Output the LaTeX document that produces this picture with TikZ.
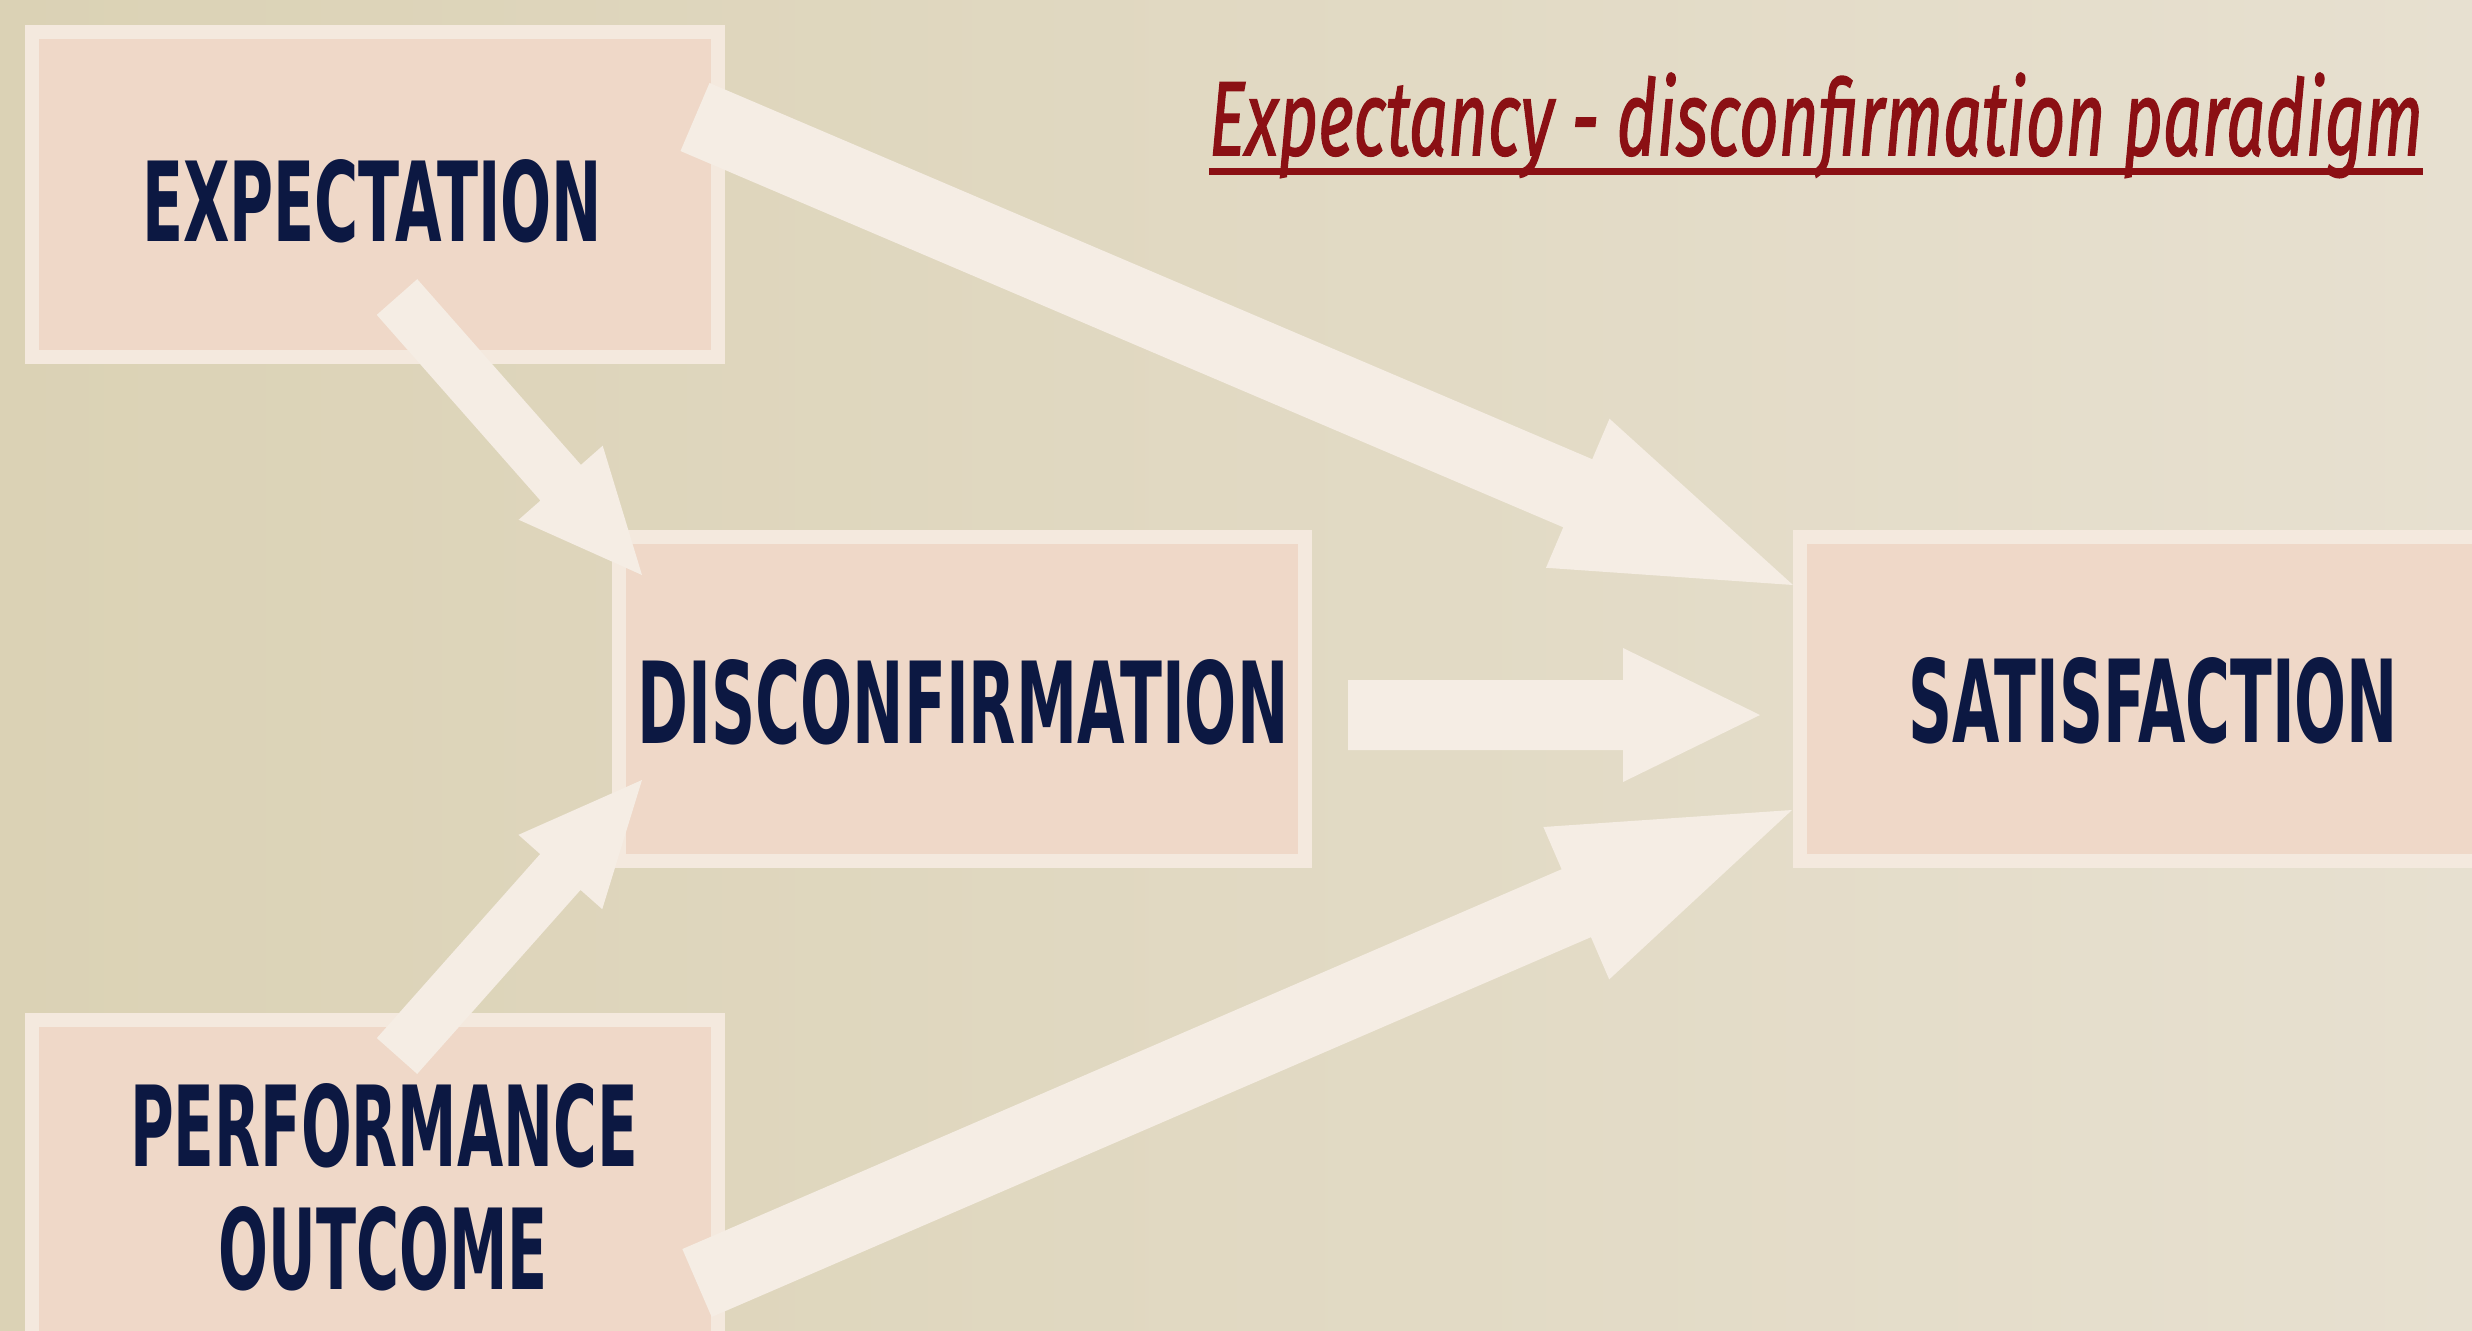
\documentclass[tikz,border=0pt]{standalone}
\usepackage{fontspec}
\usepackage{graphicx}
\usetikzlibrary{calc}
\newfontfamily\boxfont{DejaVu Sans}
\newfontfamily\titlefont{Fira Sans}[ItalicFeatures={FakeBold=1.6}]
\definecolor{bgL}{RGB}{219,210,181}
\definecolor{bgR}{RGB}{231,224,208}
\definecolor{framec}{RGB}{244,233,222}
\definecolor{fillc}{RGB}{239,216,200}
\definecolor{arrowc}{RGB}{245,237,228}
\definecolor{navy}{RGB}{12,24,66}
\definecolor{titlered}{RGB}{139,16,20}
\tikzset{
  box/.style={draw=framec, fill=fillc, line width=14pt, inner sep=0pt, outer sep=0pt,
    minimum width=686pt, minimum height=324pt},
  lbl/.style={inner sep=0pt, outer sep=0pt, text=navy, font=\boxfont\bfseries\fontsize{100}{110}\selectfont},
  arrowfill/.style={fill=arrowc},
}
\newcommand\blockarrow[6]{%
  \coordinate (#1h) at ($(#3)!#6!(#2)$);
  \fill[arrowfill] ($(#2)!#4!90:(#3)$) -- ($(#1h)!#4!90:(#3)$) -- ($(#1h)!#5!90:(#3)$) -- (#3)
    -- ($(#1h)!#5!-90:(#3)$) -- ($(#1h)!#4!-90:(#3)$) -- ($(#2)!#4!-90:(#3)$) -- cycle;
}
\begin{document}
\begin{tikzpicture}[x=1pt,y=-1pt]
\useasboundingbox (0,0) rectangle (2472,1330);
\shade[left color=bgL, right color=bgR] (0,0) rectangle (2472,1330);
\begin{scope}
\clip (0,0) rectangle (2472,1330);
% boxes
\node[box] (exp) at (375,194.5) {};
\node[box] (disc) at (962,699) {};
\node[box] (sat) at (2143,699) {};
\node[box] (perf) at (375,1182) {};
% labels
\node[lbl] (expT) at (372,201) {\resizebox{460pt}{82pt}{EXPECTATION}};
\node[lbl] (discT) at (963,702) {\resizebox{651pt}{84pt}{DISCONFIRMATION}};
\node[lbl] (satT) at (2153,701) {\resizebox{490pt}{85pt}{SATISFACTION}};
\node[lbl] (perfT) at (384,1126) {\resizebox{508pt}{83pt}{PERFORMANCE}};
\node[lbl] (outT) at (383.5,1248.5) {\resizebox{329pt}{83pt}{OUTCOME}};
% arrow end points
\coordinate (a1s) at (695,117);  \coordinate (a1t) at (1793,585);
\coordinate (a2s) at (397,297);  \coordinate (a2t) at (642,575);
\coordinate (a3s) at (397,1056); \coordinate (a3t) at (642,780);
\coordinate (a4s) at (1348,715); \coordinate (a4t) at (1760,715);
\coordinate (a5s) at (697,1283); \coordinate (a5t) at (1792,810);
\blockarrow{a1}{a1s}{a1t}{37pt}{81pt}{234pt}
\blockarrow{a2}{a2s}{a2t}{27pt}{56pt}{123pt}
\blockarrow{a3}{a3s}{a3t}{27pt}{56pt}{123pt}
\blockarrow{a4}{a4s}{a4t}{35pt}{67pt}{137pt}
\blockarrow{a5}{a5s}{a5t}{37pt}{83pt}{235pt}
\end{scope}
% title
\node[inner sep=0pt, outer sep=0pt, anchor=base west, text=titlered] (title) at (1209,155)
  {\resizebox{1214pt}{82pt}{\titlefont\itshape\fontsize{109}{120}\selectfont Expectancy - disconfirmation paradigm}};
\draw[titlered, line width=7pt] ([yshift=-16.5pt]title.base west) -- ([yshift=-16.5pt]title.base east);
\end{tikzpicture}
\end{document}
